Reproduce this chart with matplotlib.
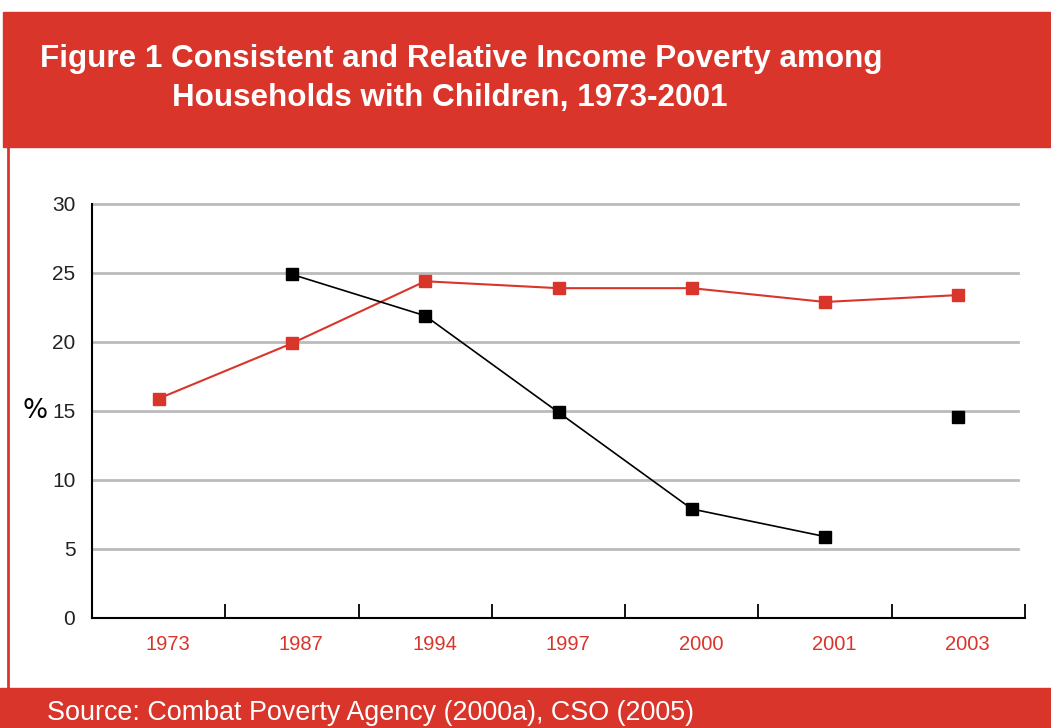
import matplotlib.pyplot as plt
import matplotlib.patches as patches
import numpy as np

# data
years = ['1973', '1987', '1994', '1997', '2000', '2001', '2003']
relative = [15.9, 19.9, 24.4, 23.9, 23.9, 22.9, 23.4]
consistent = [np.nan, 24.9, 21.9, 14.9, 7.9, 5.9, 14.6]
yticks = [0, 5, 10, 15, 20, 25, 30]

red = '#D9352B'
fnt = ['Liberation Sans', 'DejaVu Sans']

fig = plt.figure(figsize=(10.51, 7.28), dpi=100)

# header band, footer band, left border
fig.patches.append(patches.Rectangle((0.003, 0.798), 1.0, 0.1855, transform=fig.transFigure,
                                     color=red, zorder=0))
fig.patches.append(patches.Rectangle((0.0, 0.0), 1.0, 0.055, transform=fig.transFigure,
                                     color=red, zorder=0))
fig.add_artist(plt.Line2D([0.008, 0.008], [0.055, 0.8], transform=fig.transFigure,
                          color=red, lw=2))

fig.text(0.038, 0.919, 'Figure 1 Consistent and Relative Income Poverty among',
         color='white', fontsize=22.6, fontweight='bold', family=fnt, va='center')
fig.text(0.164, 0.865, 'Households with Children, 1973-2001',
         color='white', fontsize=22.6, fontweight='bold', family=fnt, va='center')
fig.text(0.045, 0.021, 'Source: Combat Poverty Agency (2000a), CSO (2005)',
         color='white', fontsize=19.4, family=fnt, va='center')

ax = fig.add_axes([0.0875, 0.1511, 0.8878, 0.5687])
x = np.arange(len(years))

ax.plot(x, relative, color=red, lw=1.5, marker='s', ms=9, zorder=3)
ax.plot(x[:6], consistent[:6], color='black', lw=1.2, zorder=3)
ax.plot(x, consistent, color='black', lw=0, marker='s', ms=9, zorder=3)

ax.set_xlim(-0.5, 6.5)
ax.set_ylim(0, 30)
ax.set_yticks(yticks)
for v in yticks[1:]:
    ax.plot([-0.5, 6.45], [v, v], color='#BBBBBB', lw=2, zorder=1, clip_on=False)

ax.set_xticks(np.arange(0.5, 7, 1))
ax.set_xticklabels([])
ax.tick_params(axis='x', direction='in', length=10, width=1.3, color='black')
ax.tick_params(axis='y', length=0, pad=12, labelsize=15, labelcolor='#222222')
for lbl in ax.get_yticklabels():
    lbl.set_family(fnt)
for i, yr in enumerate(years):
    ax.text(i + 0.07, -1.95, yr, color=red, fontsize=14.5, family=fnt,
            ha='center', va='center')

for s in ['top', 'right']:
    ax.spines[s].set_visible(False)
ax.spines['left'].set_linewidth(1.5)
ax.spines['bottom'].set_linewidth(1.5)
ax.set_ylabel('%', rotation=0, fontsize=19, labelpad=12, va='center')

fig.savefig('out.png', dpi=100)
